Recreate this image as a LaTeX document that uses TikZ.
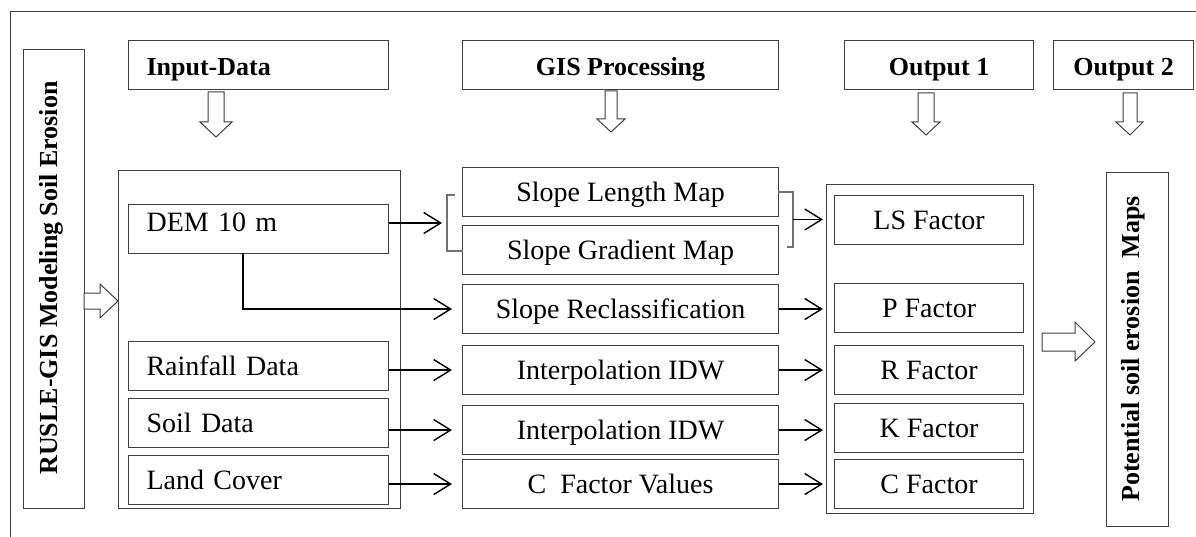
\documentclass[tikz,border=0pt]{standalone}
\usepackage{fontspec}
\setmainfont{Liberation Serif}
\usetikzlibrary{arrows.meta,calc}
\definecolor{bc}{HTML}{404040}
\definecolor{brc}{HTML}{707070}
\newcommand\regf{\fontsize{28}{30}\selectfont}
\newcommand\bldf{\fontsize{26}{28}\selectfont\bfseries}
\tikzset{
  box/.style={draw=bc, line width=1.1pt, inner sep=0pt, fill=white, anchor=north west},
  rtxt/.style={font=\regf, text height=18.5pt, text depth=0pt},
  lbox/.style={box, rtxt, align=left, inner xsep=18pt, inner ysep=0pt, text width=224pt, minimum height=49pt},
  gbox/.style={box, rtxt, minimum width=316pt, minimum height=49pt},
  fbox/.style={box, rtxt, minimum width=189pt, minimum height=49pt},
  hbox/.style={box, minimum height=49pt, font=\bldf, text height=21pt, text depth=0pt},
  arr/.style={line width=1.4pt, -{Straight Barb[length=17pt,width=21pt,line width=1.4pt]}},
  blk/.style={draw=bc, line width=1pt, fill=white, line join=miter},
  brk/.style={draw=brc, line width=1.2pt},
}
\begin{document}
\begin{tikzpicture}[x=1pt,y=-1pt]
\useasboundingbox (0,0) rectangle (1196,537);
\fill[white] (0,0) rectangle (1196,537);
% outer frame
\draw[bc, line width=1pt] (10,537) -- (10,12) -- (1196,12);

% left title box
\node[box, minimum width=61pt, minimum height=459pt] (rusle) at (23,49) {};
\node[rotate=90, font=\bldf, inner sep=0pt] (rusletxt) at (51,278) {RUSLE-GIS Modeling Soil Erosion};

% headers
\node[hbox, align=left, inner xsep=18pt, text width=224pt] (hin) at (128,40) {Input-Data};
\node[hbox, minimum width=316pt] (hgis) at (462,40) {GIS Processing};
\node[hbox, minimum width=189pt] (hout1) at (844,40) {Output 1};
\node[hbox, minimum width=140pt] (hout2) at (1053,40) {Output 2};

% block arrows down
\draw[blk] (208,92) -- (224,92) -- (224,122) -- (232,122) -- (216,137) -- (200,122) -- (208,122) -- cycle;
\draw[blk] (605,91) -- (617,91) -- (617,119) -- (625,119) -- (611,132) -- (597,119) -- (605,119) -- cycle;
\draw[blk] (918,93) -- (934,93) -- (934,122) -- (940,122) -- (926,135) -- (912,122) -- (918,122) -- cycle;
\draw[blk] (1123,93) -- (1137,93) -- (1137,122) -- (1143,122) -- (1130,135) -- (1116,122) -- (1123,122) -- cycle;

% input column
\node[box, minimum width=282pt, minimum height=338pt] (inbig) at (118,170) {};
\node[lbox, text height=19pt, text depth=14pt] (dem) at (128,204) {DEM 10 m};
\node[lbox] (rain) at (128,341) {Rainfall Data};
\node[lbox] (soil) at (128,398) {Soil Data};
\node[lbox] (land) at (128,455) {Land Cover};

% block arrow right (title -> input)
\draw[blk] (84,293) -- (100,293) -- (100,284) -- (118,301) -- (100,318) -- (100,309) -- (84,309) -- cycle;

% GIS column
\node[gbox] (slen) at (462,167) {Slope Length Map};
\node[gbox] (sgrad) at (462,225) {Slope Gradient Map};
\node[gbox] (recl) at (462,284) {Slope Reclassification};
\node[gbox] (int1) at (462,345) {Interpolation IDW};
\node[gbox] (int2) at (462,405) {Interpolation IDW};
\node[gbox] (cval) at (462,459) {C\ \ Factor Values};

% output 1 column
\node[box, minimum width=207pt, minimum height=329pt] (outbig) at (826,184) {};
\node[fbox] (ls) at (834,195) {LS Factor};
\node[fbox] (pf) at (834,283) {P Factor};
\node[fbox] (rf) at (834,345) {R Factor};
\node[fbox] (kf) at (834,403) {K Factor};
\node[fbox] (cf) at (834,459) {C Factor};

% output 2
\node[box, minimum width=62pt, minimum height=354pt] (out2) at (1106,172) {};
\node[rotate=90, font=\bldf, inner sep=0pt] (out2txt) at (1133,349) {Potential soil erosion\ \ Maps};

% block arrow right (output1 -> output2)
\draw[blk] (1042,333) -- (1075,333) -- (1075,322) -- (1095,342) -- (1075,361) -- (1075,351) -- (1042,351) -- cycle;

% brackets
\draw[brk] (455,195) -- (447,195) -- (447,251) -- (463,251);
\coordinate (lb) at (447,223);
\draw[brk] (778,192) -- (793,192) -- (793,247) -- (787,247);
\coordinate (rb) at (793,219.5);
\coordinate (demx) at (243,253);

% connectors
\draw[arr, shorten >=5pt] (dem.east |- lb) -- (lb);
\draw[arr, shorten >=11pt] (rb) -- (rb -| ls.west);
\draw[arr, shorten >=10pt] (demx) |- (recl.west);
\draw[arr, shorten >=10pt] (int1.west -| rain.east) -- (int1.west);
\draw[arr, shorten >=10pt] (int2.west -| soil.east) -- (int2.west);
\draw[arr, shorten >=10pt] (cval.west -| land.east) -- (cval.west);
\draw[arr, shorten >=11pt] (recl.east) -- (recl.east -| pf.west);
\draw[arr, shorten >=11pt] (int1.east) -- (int1.east -| rf.west);
\draw[arr, shorten >=11pt] (int2.east) -- (int2.east -| kf.west);
\draw[arr, shorten >=11pt] (cval.east) -- (cval.east -| cf.west);
\end{tikzpicture}
\end{document}
